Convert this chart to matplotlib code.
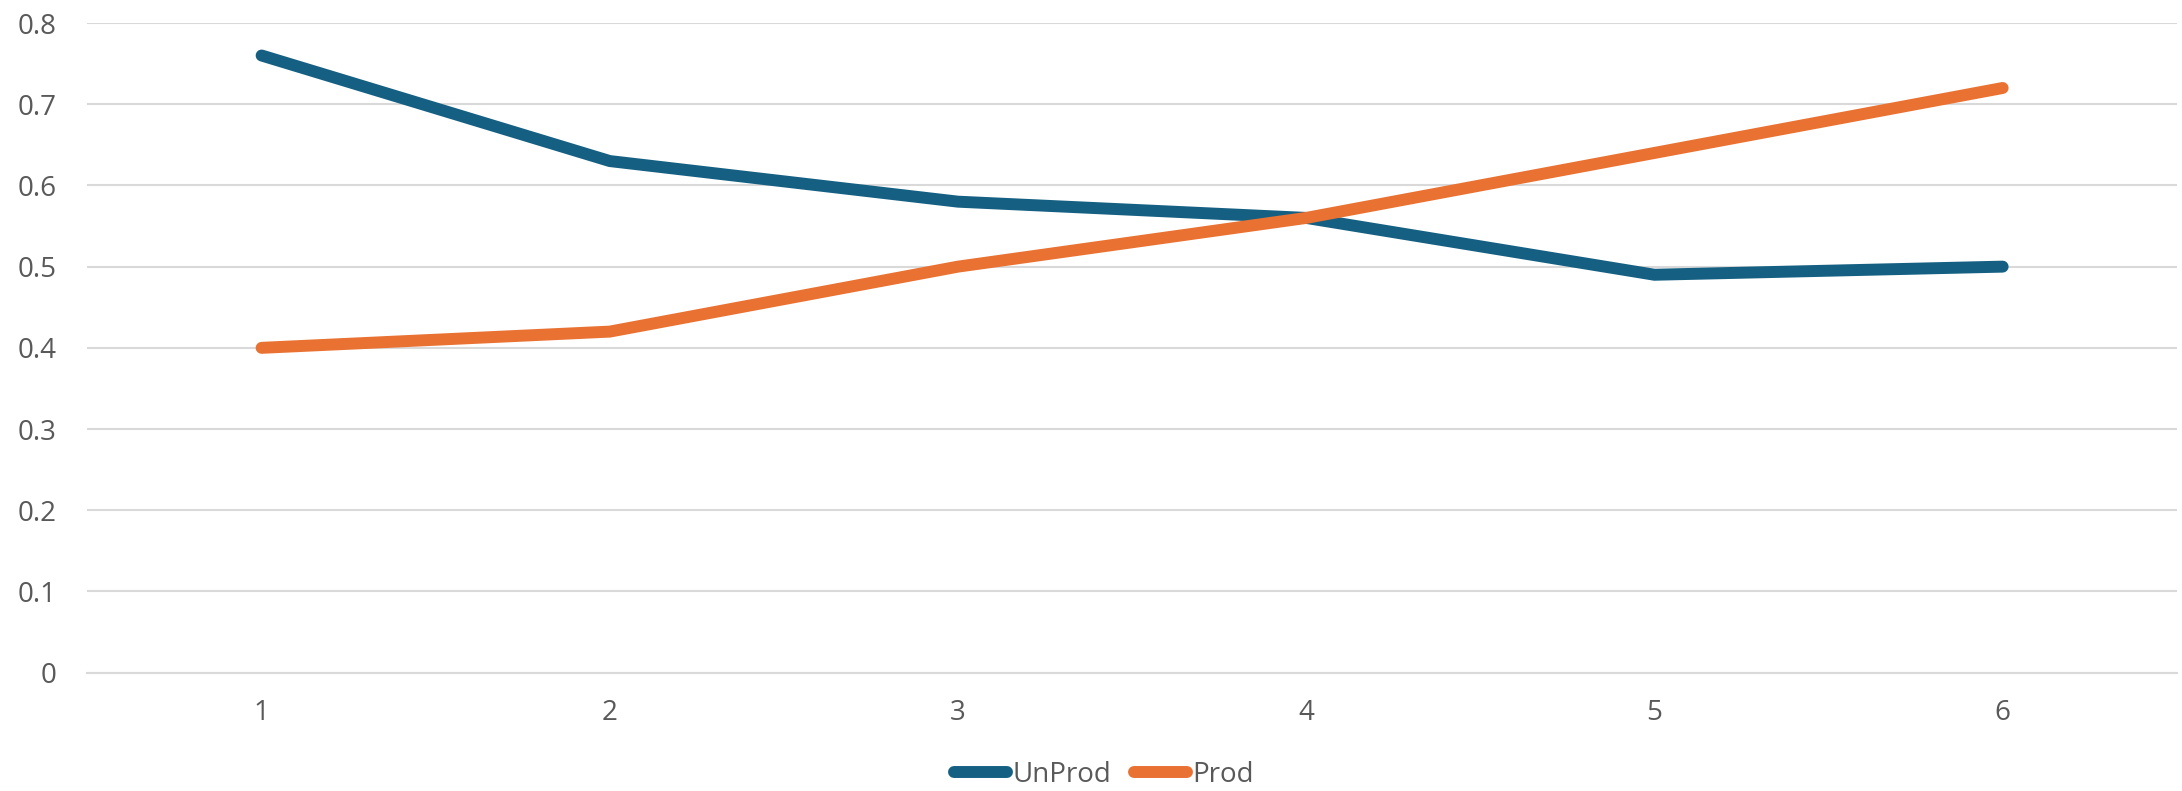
import matplotlib
matplotlib.use("Agg")
import matplotlib.pyplot as plt

# Data
categories = [1, 2, 3, 4, 5, 6]
unprod = [0.76, 0.63, 0.58, 0.56, 0.49, 0.50]
prod = [0.40, 0.42, 0.50, 0.56, 0.64, 0.72]
y_ticks = [0, 0.1, 0.2, 0.3, 0.4, 0.5, 0.6, 0.7, 0.8]
y_tick_labels = ["0", "0.1", "0.2", "0.3", "0.4", "0.5", "0.6", "0.7", "0.8"]

plt.rcParams["font.family"] = ["Open Sans", "DejaVu Sans"]

fig = plt.figure(figsize=(21.82, 7.91), dpi=100)
ax = fig.add_axes([0.0401, 0.1496, 0.9575, 0.8213])

ax.plot(categories, unprod, color="#156082", lw=8.6, solid_capstyle="round",
        solid_joinstyle="miter", label="UnProd", zorder=3)
ax.plot(categories, prod, color="#E97132", lw=8.6, solid_capstyle="round",
        solid_joinstyle="miter", label="Prod", zorder=3)

ax.set_xlim(0.5, 6.5)
ax.set_ylim(0, 0.8)
ax.set_yticks(y_ticks)
ax.set_yticklabels(y_tick_labels)
ax.set_xticks(categories)
ax.set_xticklabels([str(c) for c in categories])

ax.grid(axis="y", color="#D9D9D9", lw=1.5, zorder=0)
ax.set_axisbelow(True)
for s in ["top", "right", "left"]:
    ax.spines[s].set_visible(False)
ax.spines["bottom"].set_color("#D9D9D9")
ax.spines["bottom"].set_linewidth(1.5)
ax.tick_params(axis="both", length=0, labelsize=20, labelcolor="#595959")
ax.tick_params(axis="y", pad=22)
ax.tick_params(axis="x", pad=19)

leg = fig.legend(loc="center", bbox_to_anchor=(1104 / 2182, 1 - 775 / 791),
                 ncol=2, frameon=False, fontsize=20, handlelength=1.9,
                 handletextpad=0.2, columnspacing=0.8)
for t in leg.get_texts():
    t.set_color("#595959")
for h in leg.get_lines():
    h.set_solid_capstyle("round")

fig.savefig("out.png", dpi=100, facecolor="white")
